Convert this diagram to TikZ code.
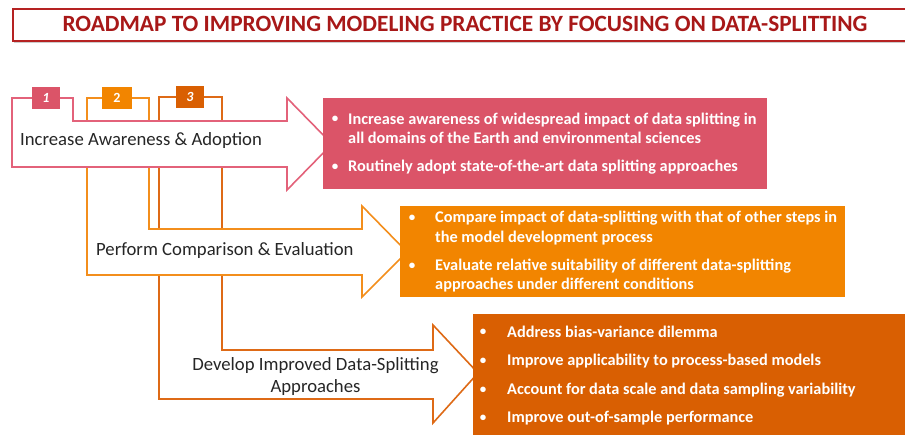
\documentclass[tikz,border=0pt]{standalone}
\usepackage{fontspec}
\setmainfont{Carlito}
\definecolor{titlered}{HTML}{A81818}
\definecolor{boxred}{HTML}{B52222}
\definecolor{pinkfill}{HTML}{DB5468}
\definecolor{pinkline}{HTML}{E3627A}
\definecolor{orgfill}{HTML}{F28500}
\definecolor{orgline}{HTML}{F38E1C}
\definecolor{dorgfill}{HTML}{D95F02}
\definecolor{dorgline}{HTML}{DE6A16}
\definecolor{txt}{HTML}{262626}
\tikzset{
  arrowshape/.style={fill=white, line width=1.6pt, line join=miter},
  badge/.style={minimum width=28pt, minimum height=22pt, inner sep=0pt, text=white, font=\fontsize{14}{16}\selectfont\bfseries\itshape},
  panel/.style={inner sep=0pt, anchor=north west},
  item/.style={anchor=west, inner sep=0pt, text=white, align=left, font=\fontsize{16.3}{19.4}\selectfont\bfseries},
  bul/.style={inner sep=0pt, text=white, font=\fontsize{13}{15}\selectfont\bfseries},
  lbl/.style={inner sep=0pt, text=txt, font=\fontsize{18.7}{22}\selectfont}
}
\begin{document}
\begin{tikzpicture}[x=1pt,y=-1pt]
\useasboundingbox (0,0) rectangle (905,435);
% title
\fill[gray!40] (14,11) rectangle (920,43);
\node[draw=boxred, line width=2pt, fill=white, minimum width=905pt, minimum height=32pt, anchor=north west, inner sep=0pt] (titlebox) at (12,8.5) {};
\node[text=titlered, font=\fontsize{23.3}{26}\selectfont\bfseries, inner sep=0pt] (title) at (465,24) {ROADMAP TO IMPROVING MODELING PRACTICE BY FOCUSING ON DATA-SPLITTING};
% arrow 3
\draw[arrowshape, draw=dorgline] (159,97) -- (222,97) -- (222,350) -- (433,350) -- (433,325) -- (478,373) -- (433,423) -- (433,399) -- (159,399) -- cycle;
% arrow 2
\draw[arrowshape, draw=orgline] (87,98) -- (149,98) -- (149,229) -- (362,229) -- (362,206) -- (407,252) -- (362,297) -- (362,275) -- (87,275) -- cycle;
% arrow 1
\draw[arrowshape, draw=pinkline] (12,98) -- (73,98) -- (73,121) -- (287,121) -- (287,98) -- (332,144) -- (287,190) -- (287,167) -- (12,167) -- cycle;
% badges
\node[badge, fill=pinkfill] (b1) at (46,98) {1};
\node[badge, fill=orgfill, minimum width=30pt, font=\fontsize{14}{16}\selectfont\bfseries] (b2) at (117,98) {2};
\node[badge, fill=dorgfill] (b3) at (190,97) {3};
% arrow labels
\node[lbl, anchor=west] (l1) at (20,141) {Increase Awareness \& Adoption};
\node[lbl, anchor=west] (l2) at (96,251) {Perform Comparison \& Evaluation};
\node[lbl, align=center] (l3) at (315.5,377) {Develop Improved Data-Splitting\\Approaches};
% panels
\node[panel, fill=pinkfill, minimum width=444pt, minimum height=91pt] (p1) at (323,98) {};
\node[panel, fill=orgfill, minimum width=445pt, minimum height=91pt] (p2) at (400,206) {};
\node[panel, fill=dorgfill, minimum width=435pt, minimum height=125pt] (p3) at (473,314) {};
% panel 1 items
\node[bul] (d11) at (335,119) {•};
\node[item] (t11) at (348,128.5) {Increase awareness of widespread impact of data splitting in\\all domains of the Earth and environmental sciences};
\node[bul] (d12) at (335,167) {•};
\node[item] (t12) at (348,167) {Routinely adopt state-of-the-art data splitting approaches};
% panel 2 items
\node[bul] (d21) at (412,218) {•};
\node[item] (t21) at (435,228) {Compare impact of data-splitting with that of other steps in\\the model development process};
\node[bul] (d22) at (412,266) {•};
\node[item] (t22) at (435,275.5) {Evaluate relative suitability of different data-splitting\\approaches under different conditions};
% panel 3 items
\node[bul] (d31) at (483,332) {•};
\node[item] (t31) at (507,332) {Address bias-variance dilemma};
\node[bul] (d32) at (483,361) {•};
\node[item] (t32) at (507,361) {Improve applicability to process-based models};
\node[bul] (d33) at (483,390) {•};
\node[item] (t33) at (507,390) {Account for data scale and data sampling variability};
\node[bul] (d34) at (483,418) {•};
\node[item] (t34) at (507,418) {Improve out-of-sample performance};
\end{tikzpicture}
\end{document}
